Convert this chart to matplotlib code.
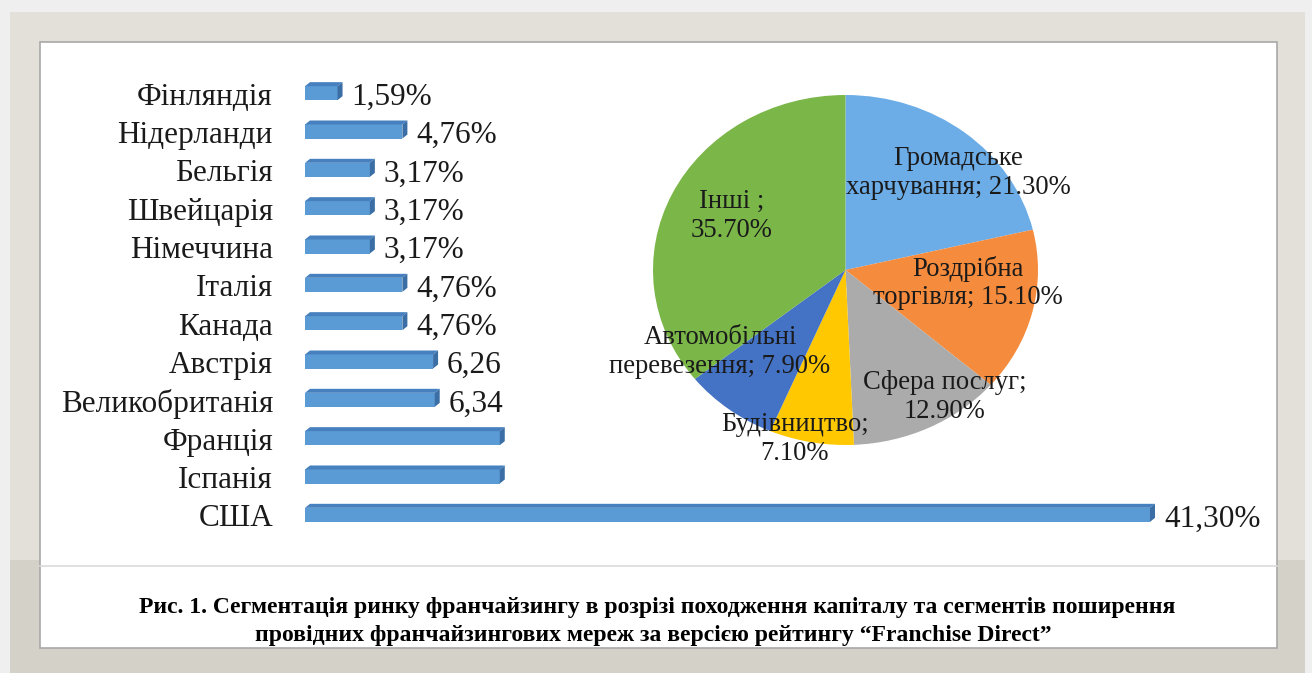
import matplotlib.pyplot as plt
from matplotlib.patches import Rectangle, Polygon

plt.rcParams['font.family'] = ['Liberation Serif', 'DejaVu Serif']

# --- data ---
countries = ['Фінляндія', 'Нідерланди', 'Бельгія', 'Швейцарія', 'Німеччина', 'Італія',
             'Канада', 'Австрія', 'Великобританія', 'Франція', 'Іспанія', 'США']
shares = [1.59, 4.76, 3.17, 3.17, 3.17, 4.76, 4.76, 6.26, 6.34, 9.52, 9.52, 41.30]
share_labels = ['1,59%', '4,76%', '3,17%', '3,17%', '3,17%', '4,76%', '4,76%',
                '6,26', '6,34', '', '', '41,30%']

segments = ['Громадське\nхарчування', 'Роздрібна\nторгівля', 'Сфера послуг',
            'Будівництво', 'Автомобільні\nперевезення', 'Інші ']
segment_vals = [21.3, 15.1, 12.9, 7.1, 7.9, 35.7]
segment_labels = ['Громадське\nхарчування; 21.30%', 'Роздрібна\nторгівля; 15.10%',
                  'Сфера послуг;\n12.90%', 'Будівництво;\n7.10%',
                  'Автомобільні\nперевезення; 7.90%', 'Інші ;\n35.70%']
segment_colors = ['#6CADE8', '#F58B3C', '#ABABAB', '#FFC800', '#4472C4', '#7AB648']
# label centres in figure pixels (as placed in the original)
label_px = [(958, 173), (968, 283), (945, 397), (795, 439), (720, 352), (732, 216)]

caption1 = 'Рис. 1. Сегментація ринку франчайзингу в розрізі походження капіталу та сегментів поширення'
caption2 = 'провідних франчайзингових мереж за версією рейтингу “Franchise Direct”'

W, H = 1312, 673
fig = plt.figure(figsize=(W / 100, H / 100), dpi=100)
fig.patch.set_facecolor('#EFEFEF')


def box(x0, y0, x1, y1):
    return [x0 / W, 1 - y1 / H, (x1 - x0) / W, (y1 - y0) / H]


def frect(x0, y0, x1, y1, **kw):
    fig.patches.append(Rectangle((x0 / W, 1 - y1 / H), (x1 - x0) / W, (y1 - y0) / H,
                                 transform=fig.transFigure, **kw))


# frame (kept behind the axes)
frect(10, 12, 1305, 673, facecolor='#E2E0D9', edgecolor='none', zorder=-5)
frect(10, 560, 1305, 673, facecolor='#D4D1C9', edgecolor='none', zorder=-5)
frect(40, 42, 1277, 648, facecolor='white', edgecolor='#A8A8A8', lw=1.2, zorder=-4)
fig.lines.append(plt.Line2D([40 / W, 1277 / W], [1 - 566 / H] * 2,
                            transform=fig.transFigure, color='#DADADA', lw=1.2, zorder=-3))

FS = 22.5
PIE_FS = 19.2

# --- bar chart ---
px_per_unit = 20.46
ax = fig.add_axes(box(305, 72, 1230, 532))
ax.set_xlim(0, 925 / px_per_unit)
ax.set_ylim(len(countries) - 0.5, -0.5)
ax.axis('off')

h = 0.47
dx = 5 / px_per_unit
dy = 4 / 38.4
for i, v in enumerate(shares):
    top = i - h / 2
    bot = i + h / 2
    ax.add_patch(Rectangle((0, top + dy), v, h - dy, facecolor='#5B9BD5', edgecolor='none'))
    ax.add_patch(Polygon([(0, top + dy), (v, top + dy), (v + dx, top), (dx, top)],
                         facecolor='#4680BE', edgecolor='none'))
    ax.add_patch(Polygon([(v, top + dy), (v + dx, top), (v + dx, bot - dy), (v, bot)],
                         facecolor='#3A6EA5', edgecolor='none'))
    ax.text(-32 / px_per_unit, i + 0.16, countries[i], ha='right', va='center',
            fontsize=FS, color='#1A1A1A', clip_on=False)
    if share_labels[i]:
        ax.text(v + dx + 9 / px_per_unit, i + 0.16, share_labels[i], ha='left',
                va='center', fontsize=FS, color='#1A1A1A', clip_on=False)

# --- pie chart ---
pax = fig.add_axes(box(653, 95, 1038, 445))
pax.pie(segment_vals, colors=segment_colors, startangle=90, counterclock=False,
        wedgeprops=dict(linewidth=0))
pax.set_aspect('auto')
pax.set_xlim(-1, 1)
pax.set_ylim(-1, 1)
for lab, (x, y) in zip(segment_labels, label_px):
    fig.text(x / W, 1 - y / H, lab, ha='center', va='center', fontsize=PIE_FS,
             linespacing=1.2, color='#1A1A1A', zorder=5)

# --- caption ---
fig.text(657 / W, 1 - 608 / H, caption1, ha='center', va='center', fontsize=17,
         fontweight='bold', color='black')
fig.text(653 / W, 1 - 635 / H, caption2, ha='center', va='center', fontsize=17,
         fontweight='bold', color='black')

fig.savefig('out.png', dpi=100, facecolor=fig.get_facecolor())
